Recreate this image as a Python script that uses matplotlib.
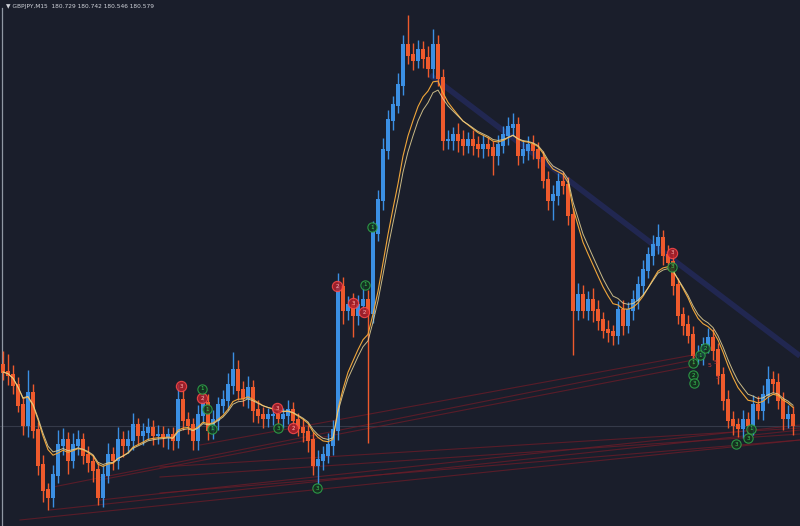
import matplotlib
matplotlib.use('Agg')
import matplotlib.pyplot as plt
import numpy as np
import pandas as pd

# GBPJPY M15 closes, one per bar
close = [181.28, 181.25, 181.15, 180.95, 180.75, 181.07, 180.70, 180.35, 180.10, 180.03,
         180.25, 180.55, 180.60, 180.40, 180.55, 180.60, 180.45, 180.38, 180.30, 180.03,
         180.25, 180.45, 180.40, 180.60, 180.55, 180.60, 180.75, 180.65, 180.68, 180.72,
         180.65, 180.65, 180.63, 180.65, 180.60, 181.00, 180.80, 180.75, 180.60, 180.85,
         180.97, 180.70, 180.80, 180.95, 181.00, 181.15, 181.30, 181.10, 181.02, 181.12,
         180.90, 180.85, 180.82, 180.85, 180.85, 180.82, 180.85, 180.90, 180.80, 180.72,
         180.68, 180.60, 180.35, 180.40, 180.45, 180.55, 180.70, 182.13, 181.90, 181.95,
         181.85, 181.95, 182.00, 181.87, 182.67, 183.00, 183.50, 183.80, 183.95, 184.15,
         184.55, 184.45, 184.40, 184.50, 184.42, 184.32, 184.55, 184.22, 183.60, 183.60,
         183.65, 183.60, 183.55, 183.60, 183.55, 183.52, 183.55, 183.52, 183.45, 183.55,
         183.65, 183.73, 183.75, 183.45, 183.50, 183.55, 183.50, 183.42, 183.20, 183.00,
         183.05, 183.18, 183.15, 182.85, 181.90, 182.05, 181.90, 182.00, 181.90, 181.80,
         181.70, 181.68, 181.65, 181.90, 181.75, 181.90, 182.00, 182.15, 182.30, 182.45,
         182.55, 182.62, 182.45, 182.38, 182.15, 181.85, 181.75, 181.65, 181.45, 181.45,
         181.55, 181.62, 181.50, 181.25, 181.00, 180.80, 180.75, 180.72, 180.80, 180.75,
         180.95, 180.90, 181.05, 181.20, 181.17, 181.00, 180.82, 180.85, 180.75]

upper_wick = [0.14, 0.18, 0.10, 0.08, 0.07, 0.23, 0.09, 0.08, 0.10, 0.07,
              0.10, 0.15, 0.12, 0.08, 0.12, 0.10, 0.07, 0.09, 0.07, 0.08,
              0.10, 0.12, 0.08, 0.13, 0.09, 0.10, 0.12, 0.07, 0.09, 0.10,
              0.08, 0.10, 0.09, 0.07, 0.08, 0.16, 0.10, 0.08, 0.07, 0.10,
              0.12, 0.09, 0.10, 0.08, 0.10, 0.12, 0.18, 0.10, 0.09, 0.12,
              0.08, 0.10, 0.08, 0.07, 0.10, 0.09, 0.07, 0.10, 0.08, 0.07,
              0.09, 0.07, 0.08, 0.10, 0.09, 0.12, 0.10, 0.14, 0.10, 0.09,
              0.12, 0.10, 0.15, 0.10, 0.12, 0.10, 0.12, 0.10, 0.09, 0.12,
              0.10, 0.30, 0.12, 0.10, 0.09, 0.12, 0.16, 0.10, 0.09, 0.10,
              0.08, 0.12, 0.10, 0.08, 0.10, 0.09, 0.10, 0.08, 0.07, 0.10,
              0.09, 0.10, 0.12, 0.08, 0.10, 0.09, 0.10, 0.08, 0.07, 0.09,
              0.10, 0.09, 0.10, 0.08, 0.07, 0.12, 0.10, 0.09, 0.12, 0.10,
              0.08, 0.10, 0.07, 0.09, 0.10, 0.08, 0.10, 0.09, 0.10, 0.08,
              0.10, 0.14, 0.08, 0.10, 0.09, 0.07, 0.08, 0.10, 0.09, 0.10,
              0.08, 0.10, 0.09, 0.07, 0.08, 0.10, 0.09, 0.07, 0.10, 0.08,
              0.10, 0.09, 0.10, 0.14, 0.09, 0.10, 0.08, 0.10, 0.09]

lower_wick = [0.08, 0.10, 0.09, 0.07, 0.10, 0.12, 0.08, 0.10, 0.12, 0.13,
              0.10, 0.08, 0.10, 0.14, 0.08, 0.10, 0.09, 0.10, 0.12, 0.08,
              0.10, 0.08, 0.10, 0.09, 0.12, 0.08, 0.10, 0.09, 0.10, 0.08,
              0.10, 0.09, 0.10, 0.12, 0.10, 0.08, 0.10, 0.09, 0.10, 0.10,
              0.08, 0.10, 0.09, 0.10, 0.08, 0.10, 0.09, 0.10, 0.08, 0.10,
              0.12, 0.08, 0.10, 0.09, 0.10, 0.08, 0.10, 0.09, 0.10, 0.08,
              0.10, 0.12, 0.10, 0.20, 0.10, 0.08, 0.10, 0.10, 0.14, 0.10,
              0.22, 0.10, 0.08, 1.30, 0.10, 0.08, 0.10, 0.09, 0.10, 0.08,
              0.10, 0.09, 0.10, 0.08, 0.10, 0.09, 0.10, 0.08, 0.10, 0.09,
              0.10, 0.12, 0.10, 0.08, 0.10, 0.09, 0.10, 0.08, 0.20, 0.10,
              0.08, 0.10, 0.09, 0.10, 0.08, 0.10, 0.09, 0.10, 0.08, 0.10,
              0.20, 0.10, 0.09, 0.10, 0.45, 0.10, 0.08, 0.10, 0.12, 0.10,
              0.08, 0.10, 0.10, 0.09, 0.10, 0.08, 0.10, 0.09, 0.10, 0.08,
              0.10, 0.09, 0.10, 0.08, 0.10, 0.09, 0.10, 0.08, 0.10, 0.09,
              0.10, 0.08, 0.10, 0.09, 0.10, 0.08, 0.10, 0.09, 0.10, 0.08,
              0.10, 0.09, 0.10, 0.08, 0.10, 0.09, 0.12, 0.10, 0.10]

first_open = 181.35
last_price = 180.74
header = '\u25bc GBPJPY,M15  180.729 180.742 180.546 180.579'

# trend lines: (bar0, price0, bar1, price1)
down_trend = (85.4, 184.25, 159.4, 181.44)
red_lines = [(10.0, 180.13, 138.0, 181.40),
             (19.4, 180.20, 138.0, 181.34),
             (39.4, 180.55, 138.0, 181.45),
             (3.4, 179.80, 159.4, 180.60),
             (9.4, 179.90, 159.4, 180.70),
             (19.4, 180.00, 159.4, 180.75),
             (31.4, 180.33, 159.4, 180.72),
             (31.4, 180.23, 159.4, 180.66),
             (31.4, 180.07, 159.4, 180.60)]

# signal circles: bar, price, label
red_sig_bar = [35.6, 39.8, 54.8, 58.0, 66.8, 70.0, 72.2, 133.8]
red_sig_price = [181.14, 181.02, 180.92, 180.72, 182.14, 181.97, 181.88, 182.47]
red_sig_lab = ['3', '2', '3', '2', '2', '3', '2', '3']
green_sig_bar = [39.8, 40.8, 41.8, 55.0, 62.8, 73.8, 72.4, 133.8, 138.0, 138.0,
                 138.2, 139.4, 140.4, 146.6, 149.0, 149.6]
green_sig_price = [181.11, 180.91, 180.71, 180.72, 180.12, 182.73, 182.15, 182.33,
                   181.37, 181.25, 181.17, 181.45, 181.52, 180.56, 180.62, 180.71]
green_sig_lab = ['1', '1', '1', '3', '3', '1', '1', '3', '1', '2', '3', '1', '2', '3', '3', '1']
red_txt_bar = [138.0, 141.2, 142.6, 143.0]
red_txt_price = [181.43, 181.35, 181.38, 181.23]

bg = '#1a1e2b'
up_col = '#3b8fe3'
dn_col = '#ee5a2c'

close = np.array(close)
n = len(close)
x = np.arange(n)
opn = np.r_[first_open, close[:-1]]
high = np.maximum(opn, close) + np.array(upper_wick)
low = np.minimum(opn, close) - np.array(lower_wick)
up = close >= opn
cols = np.where(up, up_col, dn_col)

fig = plt.figure(figsize=(8, 5.26), dpi=100, facecolor=bg)
ax = fig.add_axes([0, 0, 1, 1])
ax.set_facecolor(bg)
ax.set_xlim(-0.6, 159.4)
ax.set_ylim(179.74, 185.0)
ax.axis('off')

ax.axhline(last_price, color='#353a49', lw=0.8, zorder=1)
ax.axvline(-0.2, ymax=0.985, color='#9097a3', lw=0.9, zorder=1)

for x0, p0, x1, p1 in red_lines:
    ax.plot([x0, x1], [p0, p1], color='#6e1c28', lw=0.8, alpha=0.75, zorder=2)
ax.plot(down_trend[::2], down_trend[1::2], color='#2a3380', lw=4, alpha=0.45,
        solid_capstyle='butt', zorder=2)

ax.vlines(x, low, high, colors=cols, lw=1, zorder=3)
ax.bar(x, np.abs(close - opn) + 0.02, bottom=np.minimum(opn, close) - 0.01,
       width=0.7, color=cols, zorder=4)

# two moving averages of the close
s = pd.Series(close)
ax.plot(x, s.ewm(span=9).mean(), color='#f0a63a', lw=0.8, zorder=5)
ax.plot(x, s.ewm(span=10.5).mean(), color='#e8d596', lw=0.7, alpha=0.85, zorder=5)

ax.scatter(red_sig_bar, red_sig_price, s=55, facecolor='#b3202a', edgecolor='#ff4b4b',
           lw=0.8, alpha=0.85, zorder=6)
for b, p, t in zip(red_sig_bar, red_sig_price, red_sig_lab):
    ax.text(b, p, t, color='#ffb0b0', fontsize=4, ha='center', va='center', zorder=7)
ax.scatter(green_sig_bar, green_sig_price, s=45, facecolor='#14351f', edgecolor='#2fa84a',
           lw=0.8, alpha=0.85, zorder=6)
for b, p, t in zip(green_sig_bar, green_sig_price, green_sig_lab):
    ax.text(b, p, t, color='#3ccf5a', fontsize=4, ha='center', va='center', zorder=7)
for b, p in zip(red_txt_bar, red_txt_price):
    ax.text(b, p, '5', color='#d63a3a', fontsize=4.5, ha='center', va='center', zorder=7)

fig.text(0.008, 0.987, header, color='#d0d3da', fontsize=4.2, ha='left', va='center')

fig.savefig('out.png', dpi=100, facecolor=bg)
